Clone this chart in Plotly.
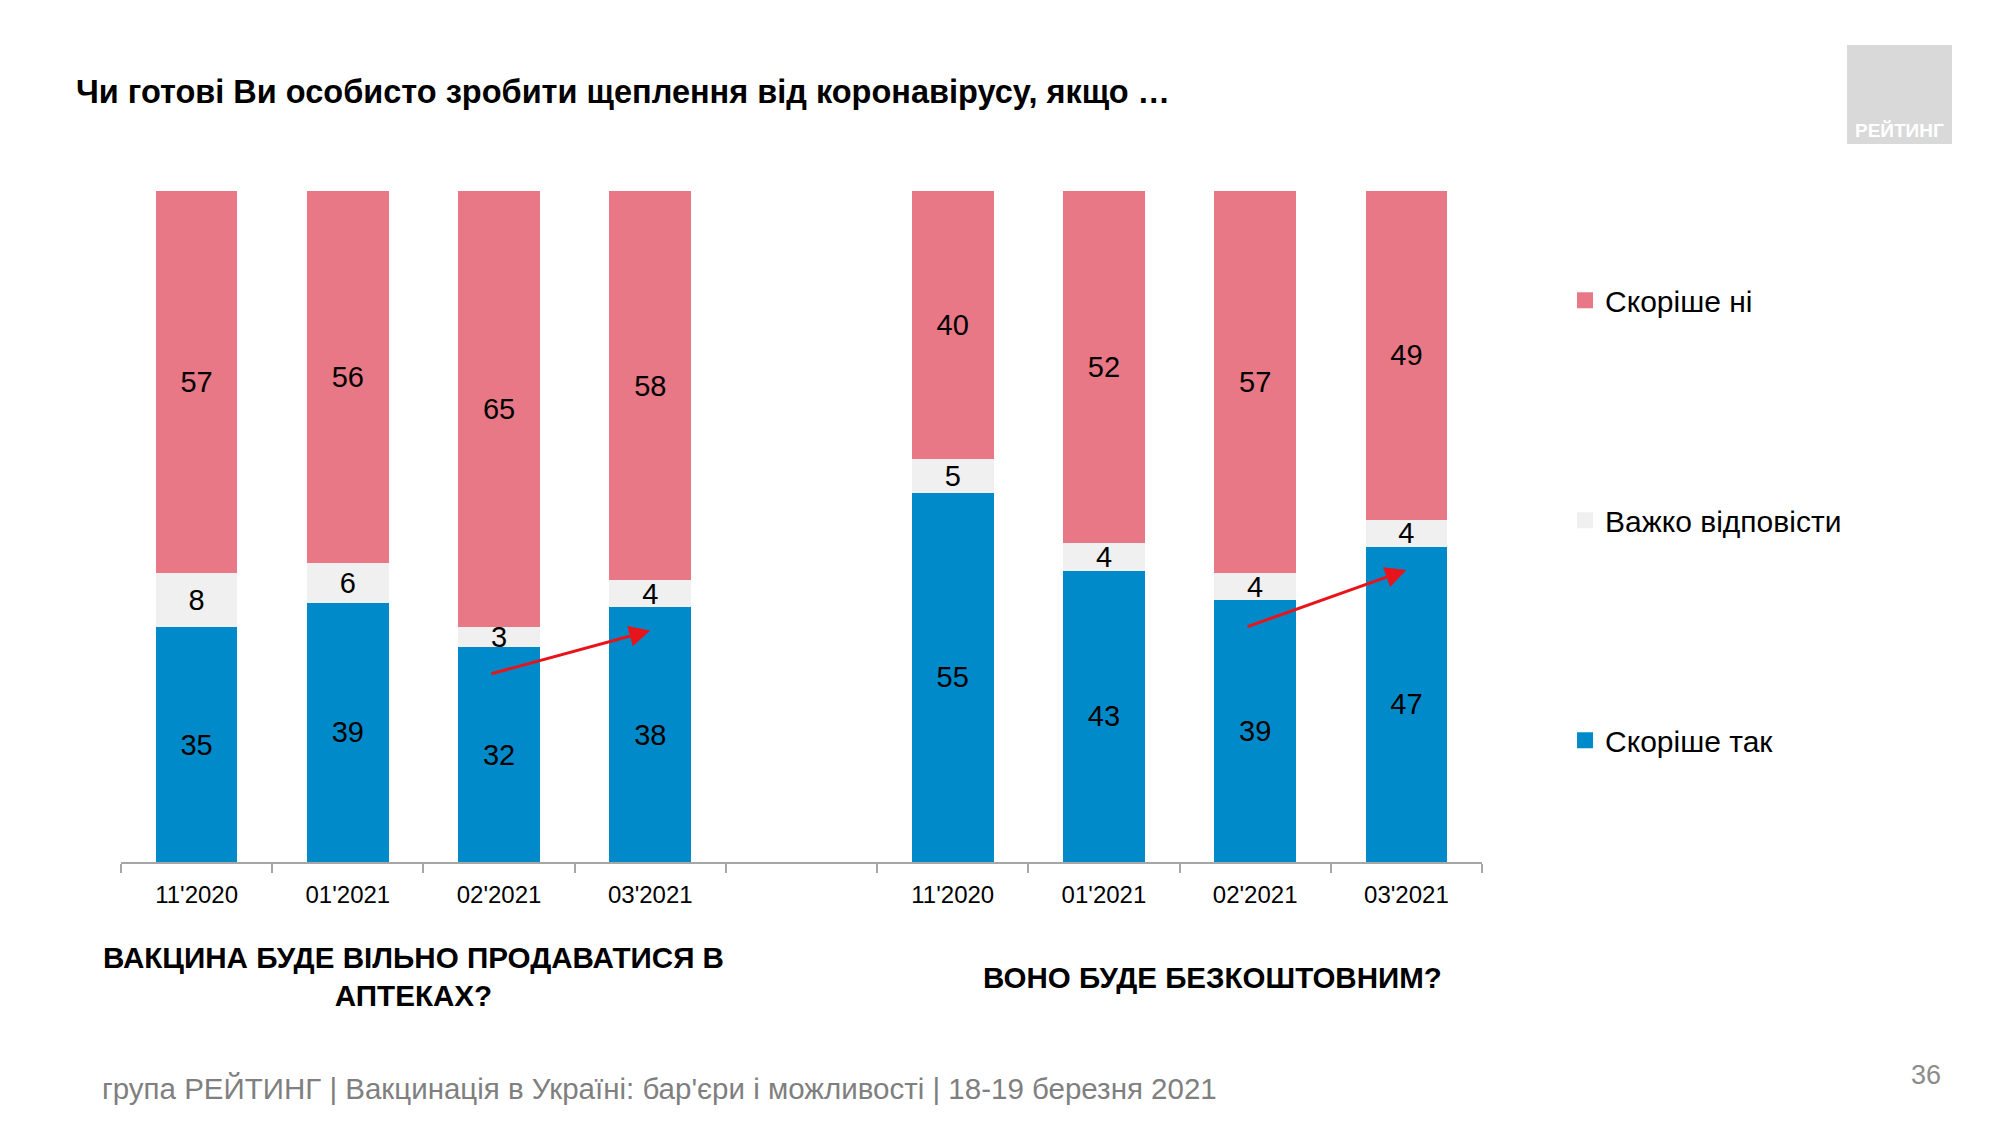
import plotly.graph_objects as go

# ---- data ----
periods = ["11'2020", "01'2021", "02'2021", "03'2021"]
series_names = ["Скоріше так", "Важко відповісти", "Скоріше ні"]
pharm_yes = [35, 39, 32, 38]
pharm_hard = [8, 6, 3, 4]
pharm_no = [57, 56, 65, 58]
free_yes = [55, 43, 39, 47]
free_hard = [5, 4, 4, 4]
free_no = [40, 52, 57, 49]
group_titles = ["ВАКЦИНА БУДЕ ВІЛЬНО ПРОДАВАТИСЯ В<br>АПТЕКАХ?", "ВОНО БУДЕ БЕЗКОШТОВНИМ?"]
title_text = "Чи готові Ви особисто зробити щеплення від коронавірусу, якщо …"
footer_text = "група РЕЙТИНГ | Вакцинація в Україні: бар'єри і можливості | 18-19 березня 2021"
page_no = "36"

colors = {"Скоріше так": "#008AC9", "Важко відповісти": "#F0F0F0", "Скоріше ні": "#E87886"}
FONT = "Liberation Sans Narrow, Arial Narrow, Liberation Sans, Arial, sans-serif"

# page offset (body margin) compensation
OFF = 8
L, T = 121 - OFF, 191 - OFF
PW, PH = 1361, 671


def px(xp):
    return (xp - 121) / PW


def py(yp):
    return (862 - yp) / PH


n = len(periods)
x_left = list(range(n))
x_right = [i + n + 1 for i in range(n)]
xs = x_left + x_right
tick_text = periods + periods

series_vals = {
    "Скоріше так": pharm_yes + free_yes,
    "Важко відповісти": pharm_hard + free_hard,
    "Скоріше ні": pharm_no + free_no,
}

fig = go.Figure()
for name in series_names:
    vals = series_vals[name]
    fig.add_trace(go.Bar(
        x=xs, y=vals, name=name, width=0.54,
        marker=dict(color=colors[name], line=dict(width=0)),
        text=[str(v) for v in vals], textposition="inside",
        insidetextanchor="middle", textangle=0,
        textfont=dict(family=FONT, size=29, color="#000000"),
        showlegend=False, hoverinfo="skip",
    ))

# legend entries (square markers)
for i, name in enumerate(reversed(series_names)):
    fig.add_trace(go.Scatter(
        x=[None], y=[None], mode="markers", name=name,
        marker=dict(symbol="square", size=18, color=colors[name]),
        legendgroup=f"g{i}", showlegend=True,
    ))

# red arrows (02'2021 -> 03'2021 of "yes")
for grp_x, grp_yes in ((x_left, pharm_yes), (x_right, free_yes)):
    x0, x1 = grp_x[2] - 0.06, grp_x[3]
    y0, y1 = grp_yes[2] - 4, grp_yes[3] - 3.5
    fig.add_annotation(x=x1, y=y1, ax=x0, ay=y0, xref="x", yref="y", axref="x", ayref="y",
                       showarrow=True, arrowhead=2, arrowsize=1.4, arrowwidth=3,
                       arrowcolor="#E8141B", text="")

fig.update_layout(
    width=2000, height=1125,
    margin=dict(l=L, r=2000 - L - PW, t=T, b=1125 - T - PH),
    paper_bgcolor="#FFFFFF", plot_bgcolor="#FFFFFF",
    barmode="stack", barnorm="percent",
    uniformtext=dict(minsize=29, mode="show"),
    font=dict(family=FONT, color="#000000"),
    title=dict(text="<b>" + title_text + "</b>", x=(76 - OFF) / 2000, xanchor="left", xref="container",
               y=1 - (92 - OFF) / 1125, yanchor="middle", yref="container",
               font=dict(family=FONT, size=32.5, color="#000000")),
    xaxis=dict(range=[-0.5, 2 * n + 0.5], tickvals=xs, ticktext=tick_text,
               showgrid=False, zeroline=False, showline=True, linecolor="#A6A6A6", linewidth=2,
               ticks="", ticklabelstandoff=10, tickfont=dict(family=FONT, size=24, color="#000000"),
               minor=dict(tickvals=[i - 0.5 for i in range(2 * n + 2)], ticks="outside",
                          ticklen=9, tickcolor="#A6A6A6", tickwidth=2, showgrid=False)),
    yaxis=dict(range=[0, 100], visible=False, showgrid=False, zeroline=False),
    legend=dict(x=1.061, xanchor="left", y=0.876, yanchor="top", xref="paper", yref="paper",
                traceorder="grouped", tracegroupgap=178,
                font=dict(family=FONT, size=30, color="#000000"), bgcolor="rgba(0,0,0,0)",
                itemclick=False),
    showlegend=True,
)

# group captions
fig.add_annotation(text="<b>" + group_titles[0] + "</b>", x=px(413), y=py(976), xref="paper", yref="paper",
                   showarrow=False, xanchor="center", yanchor="middle", align="center",
                   font=dict(family=FONT, size=29.6, color="#000000"))
fig.add_annotation(text="<b>" + group_titles[1] + "</b>", x=px(1212), y=py(977), xref="paper", yref="paper",
                   showarrow=False, xanchor="center", yanchor="middle", align="center",
                   font=dict(family=FONT, size=29.5, color="#000000"))
# footer
fig.add_annotation(text=footer_text, x=px(100), y=py(1088), xref="paper", yref="paper",
                   showarrow=False, xanchor="left", yanchor="middle",
                   font=dict(family=FONT, size=29.5, color="#7F7F7F"))
fig.add_annotation(text=page_no, x=px(1926), y=py(1075), xref="paper", yref="paper",
                   showarrow=False, xanchor="center", yanchor="middle",
                   font=dict(family=FONT, size=27, color="#8C8C8C"))
# logo
fig.add_shape(type="rect", xref="paper", yref="paper",
              x0=px(1847), x1=px(1952), y0=py(144), y1=py(45),
              fillcolor="#D9D9D9", line=dict(width=0), layer="below")
fig.add_annotation(text="<b>РЕЙТИНГ</b>", x=px(1899), y=py(131),
                   xref="paper", yref="paper", showarrow=False, xanchor="center", yanchor="middle",
                   font=dict(family="Liberation Sans, Arial, sans-serif", size=19, color="#FFFFFF"))

fig.write_html("out.html")
